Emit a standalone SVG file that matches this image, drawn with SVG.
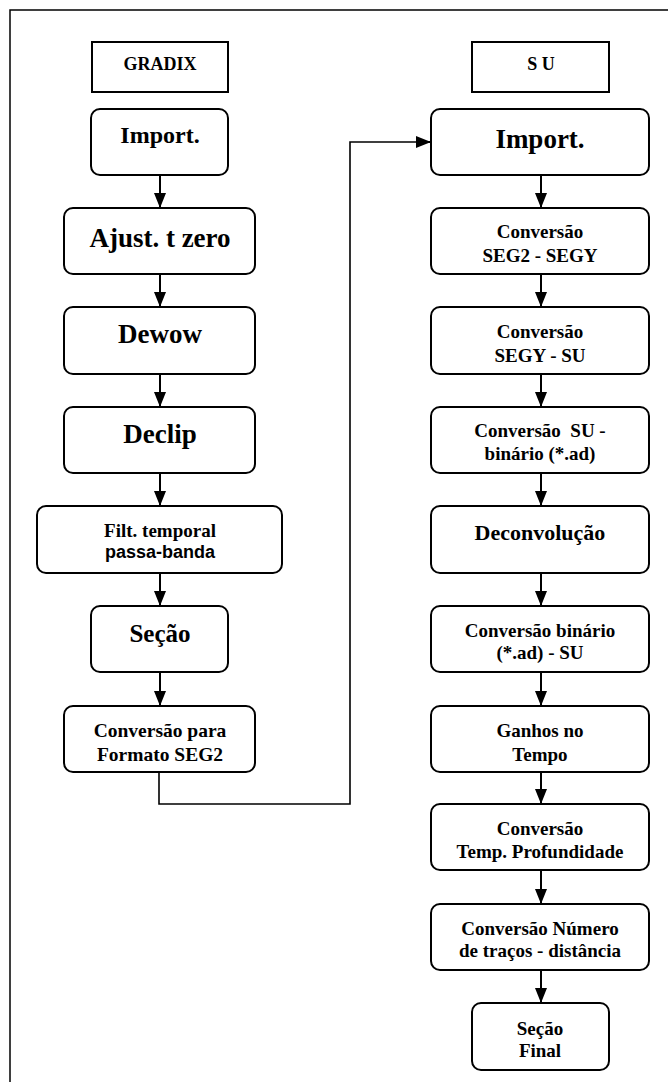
<svg xmlns="http://www.w3.org/2000/svg" width="668" height="1082" viewBox="0 0 668 1082">
<style>
.box{fill:#fff;stroke:#000;stroke-width:2}
.t{font-family:"Liberation Serif","Times New Roman",serif;font-weight:bold;fill:#000;text-anchor:middle}
.s{font-family:"Liberation Sans",Arial,sans-serif;font-weight:bold;fill:#000;text-anchor:middle}
.c{fill:none;stroke:#000;stroke-width:2}
.c2{fill:none;stroke:#000;stroke-width:1.6}
</style>
<defs>
<marker id="ah" viewBox="0 0 15 12" refX="15" refY="6" markerWidth="15" markerHeight="12" markerUnits="userSpaceOnUse" orient="auto">
<path d="M0,0 L15,6 L0,12 Z" fill="#000"/>
</marker>
</defs>
<rect x="10" y="10" width="700" height="1100" fill="none" stroke="#000" stroke-width="1.5"/>

<g id="connectors">
<line class="c" x1="160" y1="175" x2="160" y2="208" marker-end="url(#ah)"/>
<line class="c" x1="160" y1="274" x2="160" y2="307" marker-end="url(#ah)"/>
<line class="c" x1="160" y1="374" x2="160" y2="407" marker-end="url(#ah)"/>
<line class="c" x1="160" y1="473" x2="160" y2="506" marker-end="url(#ah)"/>
<line class="c" x1="160" y1="573" x2="160" y2="606" marker-end="url(#ah)"/>
<line class="c" x1="160" y1="672" x2="160" y2="706" marker-end="url(#ah)"/>
<path class="c2" d="M159,772 L159,804 L350,804 L350,142 L416,142"/>
<line class="c" x1="416" y1="142" x2="431" y2="142" marker-end="url(#ah)"/>
<line class="c" x1="541" y1="175" x2="541" y2="208" marker-end="url(#ah)"/>
<line class="c" x1="541" y1="274" x2="541" y2="307" marker-end="url(#ah)"/>
<line class="c" x1="541" y1="374" x2="541" y2="407" marker-end="url(#ah)"/>
<line class="c" x1="541" y1="473" x2="541" y2="506" marker-end="url(#ah)"/>
<line class="c" x1="541" y1="573" x2="541" y2="606" marker-end="url(#ah)"/>
<line class="c" x1="541" y1="672" x2="541" y2="706" marker-end="url(#ah)"/>
<line class="c" x1="541" y1="772" x2="541" y2="804" marker-end="url(#ah)"/>
<line class="c" x1="541" y1="870" x2="541" y2="904" marker-end="url(#ah)"/>
<line class="c" x1="541" y1="970" x2="541" y2="1003" marker-end="url(#ah)"/>
</g>

<g id="gradix">
<rect class="box" x="92" y="42" width="136" height="50"/>
<text class="t" x="160" y="70" font-size="18">GRADIX</text>
</g>
<g id="g-import">
<rect class="box" x="91" y="109" width="137" height="66" rx="9"/>
<text class="t" x="160" y="143" font-size="24">Import.</text>
</g>
<g id="g-ajust">
<rect class="box" x="64" y="208" width="191" height="66" rx="9"/>
<text class="t" x="160" y="247" font-size="27">Ajust. t zero</text>
</g>
<g id="g-dewow">
<rect class="box" x="64" y="307" width="191" height="67" rx="9"/>
<text class="t" x="160" y="343" font-size="27">Dewow</text>
</g>
<g id="g-declip">
<rect class="box" x="64" y="407" width="191" height="66" rx="9"/>
<text class="t" x="160" y="443" font-size="27">Declip</text>
</g>
<g id="g-filt">
<rect class="box" x="37" y="506" width="245" height="67" rx="9"/>
<text class="t" x="160" y="537" font-size="19">Filt. temporal</text>
<text class="s" x="160" y="558" font-size="18">passa-banda</text>
</g>
<g id="g-secao">
<rect class="box" x="91" y="606" width="137" height="66" rx="9"/>
<text class="t" x="160" y="642" font-size="25">Seção</text>
</g>
<g id="g-conv-seg2">
<rect class="box" x="64" y="706" width="191" height="66" rx="9"/>
<text class="t" x="160" y="737" font-size="19.5">Conversão para</text>
<text class="t" x="160" y="761" font-size="19.5">Formato SEG2</text>
</g>

<g id="su">
<rect class="box" x="472" y="42" width="137" height="50"/>
<text class="t" x="541" y="70" font-size="18">S U</text>
</g>
<g id="s-import">
<rect class="box" x="431" y="109" width="218" height="66" rx="9"/>
<text class="t" x="540" y="148" font-size="27">Import.</text>
</g>
<g id="s-seg2-segy">
<rect class="box" x="431" y="208" width="218" height="66" rx="9"/>
<text class="t" x="540" y="238" font-size="19">Conversão</text>
<text class="t" x="540" y="262" font-size="19">SEG2 - SEGY</text>
</g>
<g id="s-segy-su">
<rect class="box" x="431" y="307" width="218" height="67" rx="9"/>
<text class="t" x="540" y="338" font-size="19">Conversão</text>
<text class="t" x="540" y="362" font-size="19">SEGY - SU</text>
</g>
<g id="s-su-bin">
<rect class="box" x="431" y="407" width="218" height="66" rx="9"/>
<text class="t" x="540" y="437" font-size="19" xml:space="preserve">Conversão  SU -</text>
<text class="t" x="540" y="460" font-size="19">binário (*.ad)</text>
</g>
<g id="s-deconv">
<rect class="box" x="431" y="506" width="218" height="67" rx="9"/>
<text class="t" x="540" y="540" font-size="22">Deconvolução</text>
</g>
<g id="s-bin-su">
<rect class="box" x="431" y="606" width="218" height="66" rx="9"/>
<text class="t" x="540" y="637" font-size="19">Conversão binário</text>
<text class="t" x="540" y="659" font-size="19">(*.ad) - SU</text>
</g>
<g id="s-ganhos">
<rect class="box" x="431" y="706" width="218" height="66" rx="9"/>
<text class="t" x="540" y="737" font-size="19">Ganhos no</text>
<text class="t" x="540" y="761" font-size="19">Tempo</text>
</g>
<g id="s-temp-prof">
<rect class="box" x="431" y="804" width="218" height="66" rx="9"/>
<text class="t" x="540" y="835" font-size="19">Conversão</text>
<text class="t" x="540" y="858" font-size="19">Temp. Profundidade</text>
</g>
<g id="s-tracos">
<rect class="box" x="431" y="904" width="218" height="66" rx="9"/>
<text class="t" x="540" y="935" font-size="19">Conversão Número</text>
<text class="t" x="540" y="957" font-size="19">de traços - distância</text>
</g>
<g id="s-final">
<rect class="box" x="472" y="1003" width="137" height="67" rx="9"/>
<text class="t" x="540" y="1035" font-size="19">Seção</text>
<text class="t" x="540" y="1057" font-size="19">Final</text>
</g>
</svg>
